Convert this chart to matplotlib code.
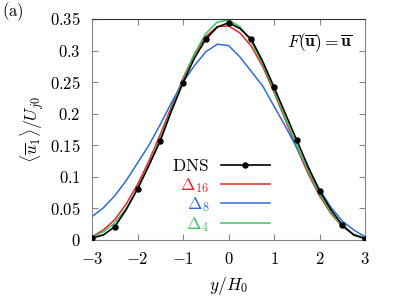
import matplotlib
matplotlib.use('Agg')
import matplotlib.pyplot as plt
import numpy as np

plt.rcParams['mathtext.fontset'] = 'cm'
plt.rcParams['font.family'] = ['DejaVu Serif']

# profiles across the jet, every 0.25 H0
y_pos = [-3.0, -2.75, -2.5, -2.25, -2.0, -1.75, -1.5, -1.25, -1.0, -0.75, -0.5, -0.25,
         0.0, 0.25, 0.5, 0.75, 1.0, 1.25, 1.5, 1.75, 2.0, 2.25, 2.5, 2.75, 3.0]

dns = [0.003, 0.008, 0.021, 0.048, 0.081, 0.118, 0.157, 0.205, 0.249, 0.288, 0.318, 0.337,
       0.344, 0.335, 0.318, 0.283, 0.242, 0.200, 0.158, 0.116, 0.078, 0.048, 0.024, 0.008, 0.002]
delta16 = [0.005, 0.016, 0.032, 0.057, 0.088, 0.125, 0.167, 0.212, 0.256, 0.294, 0.322, 0.338,
           0.339, 0.328, 0.307, 0.275, 0.234, 0.190, 0.146, 0.105, 0.070, 0.042, 0.021, 0.009, 0.003]
delta8 = [0.037, 0.051, 0.070, 0.094, 0.122, 0.150, 0.183, 0.218, 0.250, 0.276, 0.298, 0.310,
          0.308, 0.290, 0.267, 0.244, 0.212, 0.180, 0.146, 0.112, 0.080, 0.052, 0.030, 0.016, 0.005]
delta4 = [0.004, 0.013, 0.027, 0.050, 0.080, 0.118, 0.161, 0.207, 0.253, 0.295, 0.327, 0.345,
          0.348, 0.338, 0.314, 0.279, 0.237, 0.193, 0.150, 0.109, 0.073, 0.044, 0.022, 0.009, 0.003]

x_ticks = [-3, -2, -1, 0, 1, 2, 3]
x_ticklabels = [r'$-3$', r'$-2$', r'$-1$', r'$0$', r'$1$', r'$2$', r'$3$']
y_ticks = [0, 0.05, 0.1, 0.15, 0.2, 0.25, 0.3, 0.35]
y_ticklabels = [r'$0$', r'$0.05$', r'$0.1$', r'$0.15$', r'$0.2$', r'$0.25$', r'$0.3$', r'$0.35$']

fig = plt.figure(figsize=(3.99, 3.01), dpi=100)
ax = fig.add_axes([0.2306, 0.2027, 0.6842, 0.7342])

red = '#e0262a'
blue = '#2f6bd8'
green = '#3ac45e'

l_dns, = ax.plot(y_pos, dns, color='black', lw=1.2, marker='o', ms=3.6, markevery=2,
                 label=r'$\mathrm{DNS}$', zorder=5)
l16, = ax.plot(y_pos, delta16, color=red, lw=1.1, label=r'$\Delta_{16}$')
l8, = ax.plot(y_pos, delta8, color=blue, lw=1.1, label=r'$\Delta_{8}$')
l4, = ax.plot(y_pos, delta4, color=green, lw=1.1, label=r'$\Delta_{4}$')

ax.set_xlim(-3, 3)
ax.set_ylim(0, 0.35)
ax.set_xticks(x_ticks)
ax.set_xticklabels(x_ticklabels)
ax.set_yticks(y_ticks)
ax.set_yticklabels(y_ticklabels)
ax.tick_params(direction='in', top=True, right=True, length=4, color='#888888',
               labelsize=12)
ax.tick_params(axis='x', pad=8)
ax.tick_params(axis='y', pad=8)
for side in ['left', 'right', 'bottom']:
    ax.spines[side].set_color('#888888')
ax.spines['top'].set_color('#333333')

ax.set_xlabel(r'$y/H_0$', fontsize=12.5, labelpad=5)
ax.set_ylabel(r'$\langle\overline{u}_1\rangle/U_{j0}$', fontsize=12.5, labelpad=3)

leg = ax.legend(handles=[l_dns, l16, l8, l4], loc='upper right',
                bbox_to_anchor=(0.652, 0.37), frameon=False, markerfirst=False,
                numpoints=1, fontsize=12.5, handlelength=2.85, handletextpad=0.65,
                labelspacing=0.03, borderpad=0, borderaxespad=0)
for txt, c in zip(leg.get_texts(), ['black', red, blue, green]):
    txt.set_color(c)

ax.text(0.955, 0.895, r'$F(\overline{\mathbf{u}})=\overline{\mathbf{u}}$', transform=ax.transAxes,
        ha='right', va='center', fontsize=12.5)
fig.text(0.005, 0.962, r'$\mathrm{(a)}$', ha='left', va='center', fontsize=12)

fig.savefig('out.png', dpi=100)
